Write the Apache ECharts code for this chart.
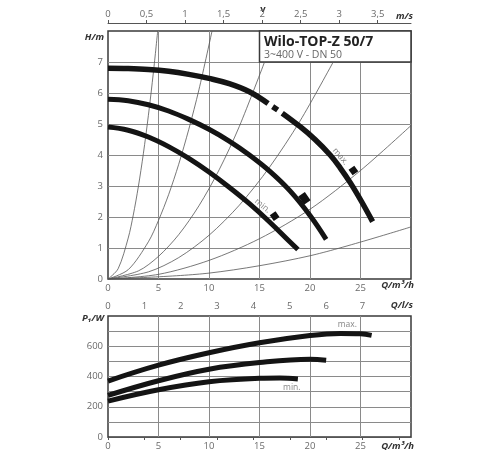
<!DOCTYPE html>
<html>
<head>
<meta charset="utf-8">
<script src="https://cdn.jsdelivr.net/npm/echarts@6/dist/echarts.min.js"></script>
<style>html,body{margin:0;padding:0;background:#fff}#c{width:500px;height:450px}</style>
</head>
<body>
<div id="c"></div>
<script>
// ---------- data ----------
// flow Q in m³/h, head H in m
const headMax = [[0,6.8],[2,6.79],[4,6.76],[6,6.7],[8,6.6],[10,6.47],[12,6.3],[14,6.04],[15.85,5.66],null,[16.3,5.56],[16.8,5.45],null,[17.25,5.35],[19,4.92],[20.5,4.5],[22,4.0],[23,3.58],[24,3.1],[25.1,2.5],[26.2,1.85]];
const headMid = [[0,5.8],[2,5.75],[4,5.62],[6,5.42],[8,5.15],[10,4.83],[12,4.45],[14,4.0],[16,3.48],[18,2.85],[20,2.05],[21.6,1.28]];
const headMin = [[0,4.9],[2,4.8],[4,4.58],[6,4.27],[8,3.89],[10,3.45],[12,2.96],[14,2.43],[16,1.84],[18,1.2],[18.8,0.95]];
// system curves (thin lines)
const sysA = [[0,0],[1,0.33],[2,1.32],[2.5,2.06],[3,2.97],[3.5,4.04],[4,5.28],[4.5,6.68],[4.92,8]];
const sysB = [[0,0],[2,0.3],[4,1.2],[5,1.89],[6,2.72],[7,3.7],[8,4.83],[9,6.1],[10.3,8]];
const sysC = [[0,0],[3,0.26],[5,0.73],[7,1.43],[9,2.36],[11,3.52],[13,4.92],[15.5,7]];
const sysD = [[0,0],[4,0.23],[7,0.69],[10,1.41],[13,2.38],[16,3.61],[19,5.09],[22.3,7]];
const sysE = [[0,0],[5,0.15],[10,0.6],[15,1.3],[20,2.25],[25,3.5],[30,4.95]];
const sysF = [[0,0],[10,0.19],[20,0.75],[30,1.68]];
// power input P1 in W
const powerMax = [[0,370],[5,475],[10,557],[15,623],[20,671],[23,685],[25,682],[26.1,672]];
const powerMid = [[0,275],[5,372],[10,448],[15,492],[20,514],[21.6,508]];
const powerMin = [[0,237],[5,312],[10,365],[15,388],[17,390],[18.8,383]];
// speed-setting markers and labels
const markerPts = [[24.3,3.5],[19.45,2.6],[16.5,2.03]];
const headLabels = [{name:'max.', value:[23.0,3.95], rot:-49},{name:'min.', value:[15.3,2.36], rot:-40}];
const powerLabels = [{name:'max.', value:[23.7,740]},{name:'min.', value:[18.2,330]}];
// axis ranges / tick labels
const qMax = 30, hMax = 8, pMax = 800;
const m3hPerMs = 7.63;   // 1 m/s velocity = 7.63 m³/h
const m3hPerLs = 3.6;    // 1 l/s = 3.6 m³/h
const titleText = 'Wilo-TOP-Z 50/7';
const subtitleText = '3~400 V - DN 50';

// ---------- chart ----------
const FONT = 'Open Sans';
const tickColor = '#6a6a6a';
const gridColor = '#8a8a8a';
const chart = echarts.init(document.getElementById('c'), null, {renderer:'canvas'});
const lbl = (extra) => Object.assign({color: tickColor, fontSize: 9.5, fontFamily: FONT}, extra);
const split = {show:true, showMinLine:false, showMaxLine:false, lineStyle:{color:gridColor, width:1}};

function thin(data){
  return {type:'line', xAxisIndex:0, yAxisIndex:0, data, smooth:0.3,
    showSymbol:false, silent:true, lineStyle:{color:'#555', width:0.8}, z:2};
}
function thick(data, x, y, w){
  return {type:'line', xAxisIndex:x, yAxisIndex:y, data, smooth:0.4, connectNulls:false,
    showSymbol:false, silent:true, lineStyle:{color:'#141414', width:w, cap:'butt'}, z:3};
}
const nameFont = 'italic bold 9.5px "Open Sans"';
function txt(x, y, text, align, font, fill){
  return {type:'text', x, y, silent:true, style:{text, font: font||nameFont, fill: fill||'#333', align: align||'right', verticalAlign:'middle'}};
}

const option = {
  animation:false,
  textStyle:{fontFamily:FONT},
  grid:[
    {left:108, top:31, width:303, height:248, show:true, borderColor:'#3a3a3a', borderWidth:1.5, backgroundColor:'#fff', outerBoundsMode:'none'},
    {left:108, top:316, width:303, height:121, show:true, borderColor:'#3a3a3a', borderWidth:1.5, backgroundColor:'#fff', outerBoundsMode:'none'}
  ],
  xAxis:[
    {gridIndex:0, type:'value', min:0, max:qMax, interval:5, position:'bottom',
      axisLine:{show:false}, axisTick:{show:false}, splitLine:split,
      axisLabel:lbl({margin:4, formatter:v=> v>=qMax?'':String(v)})},
    {gridIndex:0, type:'value', min:0, max:qMax/m3hPerMs, interval:0.5, position:'top', offset:8,
      axisLine:{show:true, lineStyle:{color:'#555', width:1}},
      axisTick:{show:true, length:3, lineStyle:{color:'#555'}}, splitLine:{show:false},
      axisLabel:lbl({margin:4, showMaxLabel:false, formatter:v=> (Math.abs(v*2-Math.round(v*2))<1e-6 && v<=3.5+1e-6)? String(v).replace('.',','):''})},
    {gridIndex:1, type:'value', min:0, max:qMax/m3hPerLs, interval:1, position:'top', offset:19,
      axisLine:{show:true, lineStyle:{color:'#555', width:1}},
      axisTick:{show:true, inside:true, length:3, lineStyle:{color:'#555'}}, splitLine:{show:false},
      axisLabel:lbl({inside:true, margin:4, showMaxLabel:false, formatter:v=> (Number.isInteger(v) && v<=7)? String(v):''})},
    {gridIndex:1, type:'value', min:0, max:qMax, interval:5, position:'bottom',
      axisLine:{show:false}, axisTick:{show:false}, splitLine:split,
      axisLabel:lbl({margin:4, formatter:v=> v>=qMax?'':String(v)})}
  ],
  yAxis:[
    {gridIndex:0, type:'value', min:0, max:hMax, interval:1,
      axisLine:{show:false}, axisTick:{show:false}, splitLine:split,
      axisLabel:lbl({margin:5, formatter:v=> v>=hMax?'':String(v)})},
    {gridIndex:1, type:'value', min:0, max:pMax, interval:100,
      axisLine:{show:false}, axisTick:{show:false}, splitLine:split,
      axisLabel:lbl({margin:5, formatter:v=> (v%200===0 && v<pMax)?String(v):''})}
  ],
  series:[
    thin(sysA), thin(sysB), thin(sysC), thin(sysD), thin(sysE), thin(sysF),
    thick(headMin,0,0,5), thick(headMid,0,0,5), thick(headMax,0,0,5.5),
    {type:'line', xAxisIndex:0, yAxisIndex:0, data:[], silent:true, z:5,
      markArea:{silent:true, itemStyle:{color:'#fff', borderColor:'#3a3a3a', borderWidth:1.5},
        label:{show:false},
        data:[[{coord:[15,7]},{coord:[qMax,hMax]}]]}},
    {type:'scatter', xAxisIndex:0, yAxisIndex:0, silent:true, z:6,
      data:markerPts.map((p,i)=>({value:p, symbolSize: i===1?[8,10]:[7,7]})),
      symbol:'rect', symbolRotate:35,
      itemStyle:{color:'#111', opacity:1, borderWidth:0}},
    {type:'scatter', xAxisIndex:0, yAxisIndex:0, silent:true, z:6, symbolSize:0,
      data:headLabels.map(d=>({name:d.name, value:d.value, label:{rotate:d.rot}})),
      label:{show:true, position:'inside', formatter:'{b}', color:'#666', fontSize:8.5, fontFamily:FONT}},
    thick(powerMin,3,1,5), thick(powerMid,3,1,5), thick(powerMax,3,1,5),
    {type:'scatter', xAxisIndex:3, yAxisIndex:1, silent:true, z:6, symbolSize:0,
      data:powerLabels, label:{show:true, position:'inside', formatter:'{b}', color:'#666', fontSize:8.5, fontFamily:FONT}}
  ],
  graphic:[
    txt(104, 37, 'H/m'),
    txt(263, 9, 'v', 'center', 'bold 9.5px "Open Sans"'),
    txt(413, 16, 'm/s'),
    txt(414, 285, 'Q/m³/h'),
    txt(413, 305, 'Q/l/s'),
    txt(104, 318, 'P₁/W'),
    txt(414, 446, 'Q/m³/h'),
    Object.assign(txt(264, 42, titleText, 'left', 'bold 14px "Open Sans"', '#222'), {z:100}),
    Object.assign(txt(264, 55, subtitleText, 'left', '10.5px "Open Sans"', '#666'), {z:100})
  ]
};
chart.setOption(option);
</script>
</body>
</html>
